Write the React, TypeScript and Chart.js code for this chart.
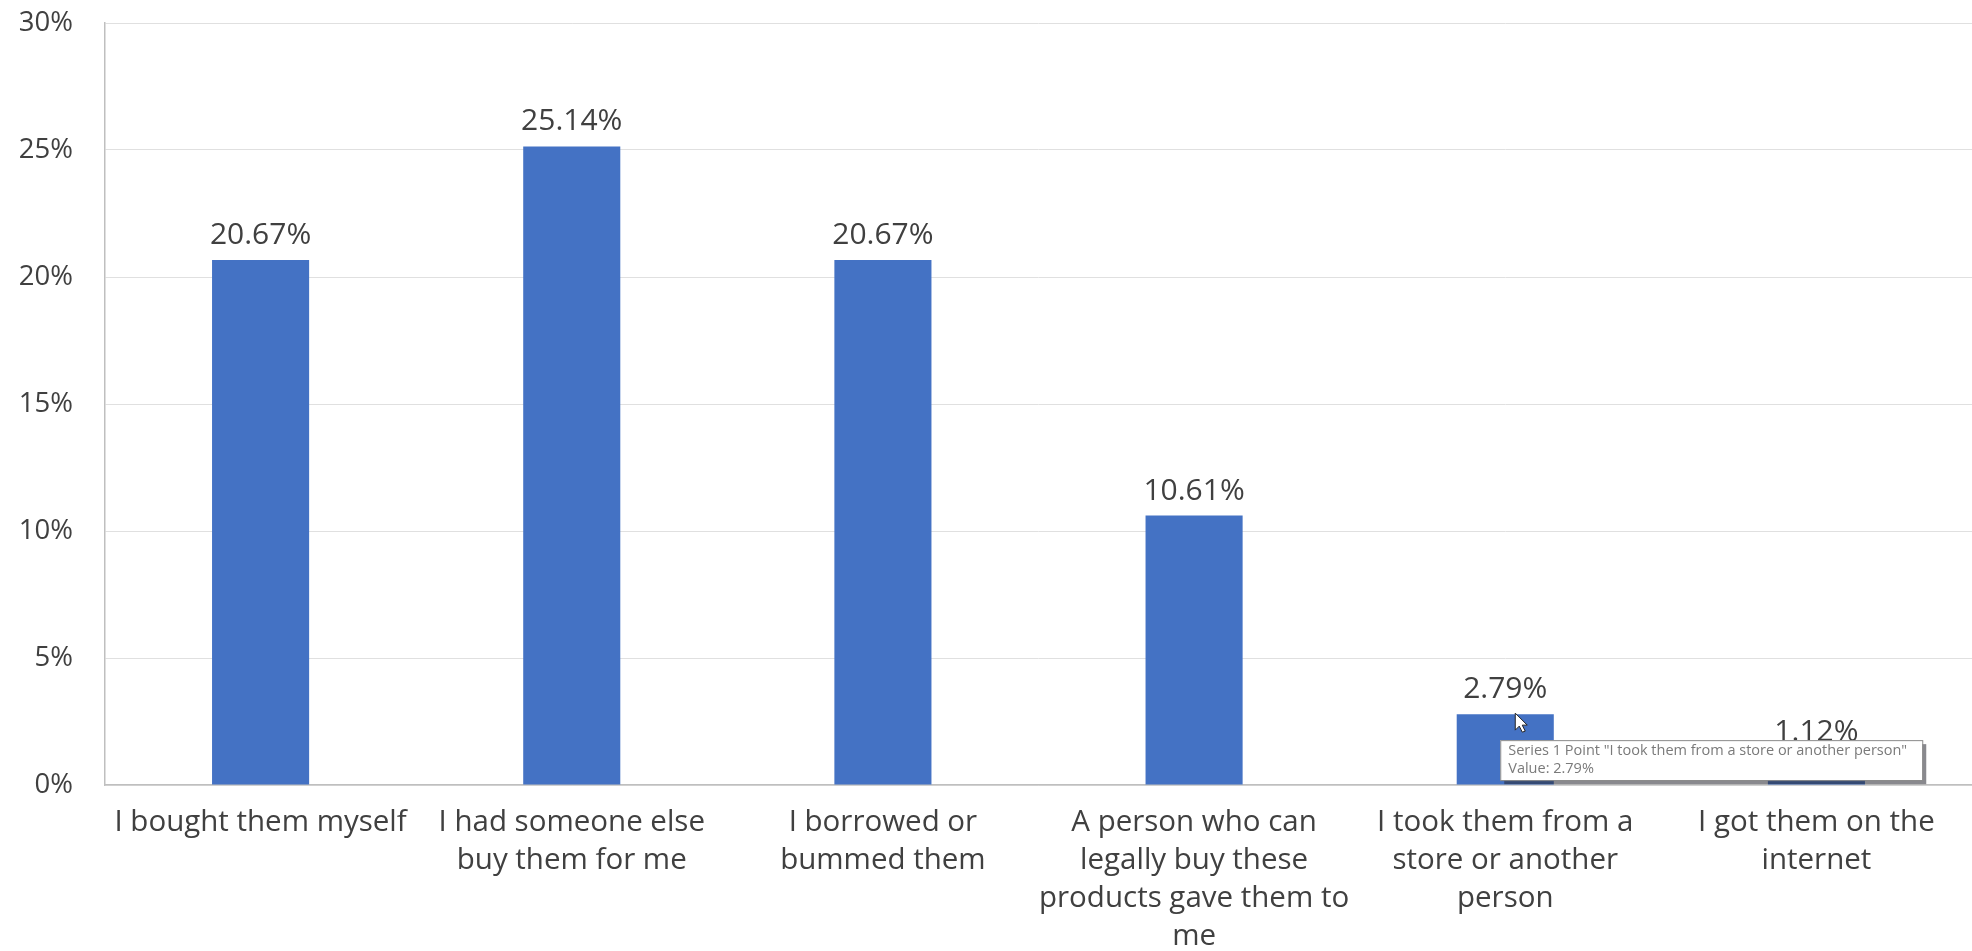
import React, { useEffect, useRef } from "react";
import { Chart, registerables } from "chart.js";

Chart.register(...registerables);

const categories: string[][] = [
  ["I bought them myself"],
  ["I had someone else", "buy them for me"],
  ["I borrowed or", "bummed them"],
  ["A person who can", "legally buy these", "products gave them to", "me"],
  ["I took them from a", "store or another", "person"],
  ["I got them on the", "internet"],
];
const values: number[] = [20.67, 25.14, 20.67, 10.61, 2.79, 1.12];
const seriesName = "Series 1";
const tooltipIndex = 4;
const yMax = 30;
const yStep = 5;

const FONT = "'Open Sans', 'Noto Sans', sans-serif";
const TEXT = "#404040";

const labelPlugin = {
  id: "barLabels",
  afterDatasetsDraw(chart: any) {
    const ctx = chart.ctx;
    const meta = chart.getDatasetMeta(0);
    ctx.save();
    ctx.font = `30px ${FONT}`;
    ctx.fillStyle = TEXT;
    ctx.textAlign = "center";
    ctx.textBaseline = "alphabetic";
    meta.data.forEach((bar: any, i: number) => {
      ctx.fillText(values[i].toFixed(2) + "%", bar.x, bar.y - 16);
    });
    ctx.restore();
  },
};

const tipPlugin = {
  id: "fakeTip",
  afterDraw(chart: any) {
    const ctx = chart.ctx;
    const bar = chart.getDatasetMeta(0).data[tooltipIndex];
    const left = bar.x - 5;
    const top = bar.y + 26;
    const w = 422;
    const h = 40;
    ctx.save();
    // shadow
    ctx.fillStyle = "rgba(40,40,50,0.55)";
    ctx.fillRect(left + 4, top + 4, w, h);
    ctx.fillStyle = "#ffffff";
    ctx.fillRect(left, top, w, h);
    ctx.strokeStyle = "#8a8a8a";
    ctx.lineWidth = 1;
    ctx.strokeRect(left + 0.5, top + 0.5, w, h);
    ctx.fillStyle = "#7a7a7a";
    ctx.font = `14.5px ${FONT}`;
    ctx.textAlign = "left";
    ctx.textBaseline = "middle";
    ctx.fillText(
      `${seriesName} Point "${categories[tooltipIndex].join(" ")}"`,
      left + 8,
      top + 11
    );
    ctx.fillText(`Value: ${values[tooltipIndex].toFixed(2)}%`, left + 8, top + 29);
    // cursor arrow
    const cx = bar.x + 10;
    const cy = bar.y - 1;
    ctx.beginPath();
    ctx.moveTo(cx, cy);
    ctx.lineTo(cx, cy + 17);
    ctx.lineTo(cx + 4, cy + 13);
    ctx.lineTo(cx + 7, cy + 19);
    ctx.lineTo(cx + 10, cy + 18);
    ctx.lineTo(cx + 7, cy + 12);
    ctx.lineTo(cx + 12, cy + 12);
    ctx.closePath();
    ctx.fillStyle = "#ffffff";
    ctx.fill();
    ctx.strokeStyle = "#222";
    ctx.stroke();
    ctx.restore();
  },
};

export default function App() {
  const ref = useRef<HTMLCanvasElement | null>(null);
  useEffect(() => {
    if (!ref.current) return;
    const chart = new Chart(ref.current, {
      type: "bar",
      data: {
        labels: categories,
        datasets: [
          {
            label: seriesName,
            data: values,
            backgroundColor: "#4472C4",
            borderWidth: 0,
            categoryPercentage: 1,
            barPercentage: 0.312,
          },
        ],
      },
      options: {
        animation: false,
        responsive: false,
        events: [],
        layout: { padding: { top: 23, right: 0, left: 0, bottom: 0 } },
        plugins: { legend: { display: false }, tooltip: { enabled: false } },
        scales: {
          x: {
            grid: { display: false, drawTicks: false },
            border: { display: true, color: "#bfbfbf", width: 1.5 },
            ticks: {
              autoSkip: false,
              maxRotation: 0,
              minRotation: 0,
              padding: 19,
              color: TEXT,
              font: { family: FONT, size: 29.5, lineHeight: 38 / 29.5 },
            },
            afterFit(scale: any) {
              scale.height = 166;
              scale.paddingLeft = 0;
              scale.paddingRight = 0;
            },
          },
          y: {
            min: 0,
            max: yMax,
            ticks: {
              stepSize: yStep,
              padding: 32,
              color: TEXT,
              font: { family: FONT, size: 27.5 },
              callback: (v: any) => `${v}%`,
            },
            grid: { color: "#e0e0e0", lineWidth: 1, drawTicks: false },
            border: { display: true, color: "#bfbfbf", width: 1.5 },
            afterFit(scale: any) {
              scale.width = 105;
              scale.paddingTop = 0;
              scale.paddingBottom = 0;
            },
          },
        },
      },
      plugins: [labelPlugin, tipPlugin],
    });
    return () => chart.destroy();
  }, []);
  return (
    <div
      style={{
        position: "fixed",
        left: 0,
        top: 0,
        width: 1972,
        height: 951,
        background: "#ffffff",
      }}
    >
      <canvas ref={ref} width={1972} height={951} style={{ display: "block" }} />
    </div>
  );
}
